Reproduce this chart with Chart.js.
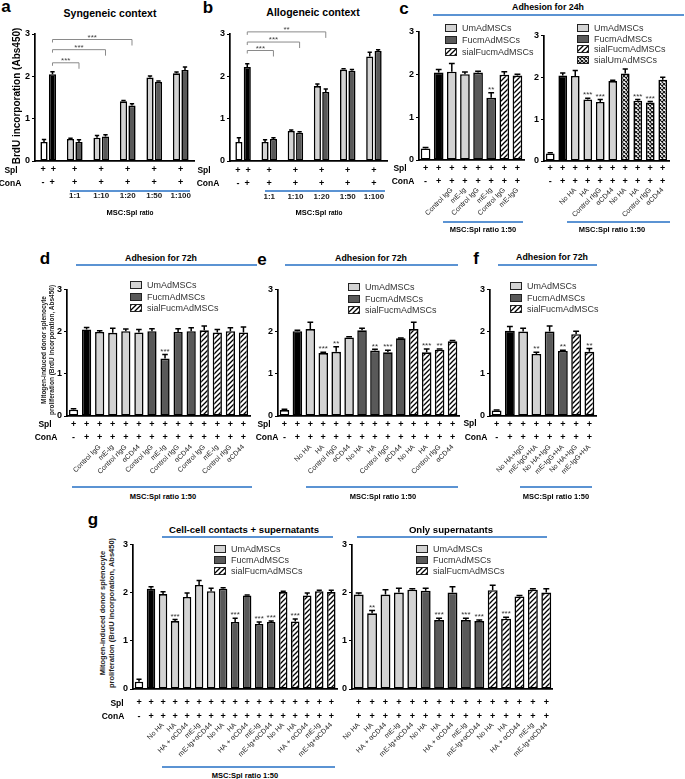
<!DOCTYPE html>
<html>
<head>
<meta charset="utf-8">
<script src="https://cdn.jsdelivr.net/npm/chart.js@4.4.0/dist/chart.umd.min.js"></script>
<style>
  body { margin: 0; background: #fff; }
  #fig { position: relative; width: 685px; height: 779px; overflow: hidden; font-family: "Liberation Sans", Arial, sans-serif; color: #000; }
  #fig canvas { position: absolute; }
  .t { position: absolute; white-space: nowrap; transform: translate(-50%, -50%); font-weight: bold; }
  .hl { position: absolute; height: 1.5px; background: #5b93d3; }
  .lg { position: absolute; font-size: 9px; line-height: 10px; height: 10px; color: #333; white-space: nowrap; }
  .lg .sw { display: inline-block; width: 10px; height: 6px; border: 1.2px solid #222; vertical-align: -1px; margin-right: 5px; }
</style>
</head>
<body>
<div id="fig"></div>
<script>
// ---- a: syngeneic context, MSC:Spl ratio titration ----
const ratioLabels = ["", "1:1", "1:10", "1:20", "1:50", "1:100"];
const abSpl = ["+  +", "+", "+", "+", "+", "+"];
const abConA = ["-  +", "+", "+", "+", "+", "+"];
const abFirstCells = ["Spl", "UmAdMSCs", "UmAdMSCs", "UmAdMSCs", "UmAdMSCs", "UmAdMSCs"];
const abSecondCells = ["Spl+ConA", "FucmAdMSCs", "FucmAdMSCs", "FucmAdMSCs", "FucmAdMSCs", "FucmAdMSCs"];
const aFirst = [0.45, 0.52, 0.55, 1.41, 1.97, 2.07];
const aFirstErr = [0.06, 0.02, 0.05, 0.02, 0.04, 0.03];
const aSecond = [2.05, 0.45, 0.58, 1.31, 1.87, 2.15];
const aSecondErr = [0.06, 0.05, 0.04, 0.04, 0.02, 0.07];
const aBrackets = [{ to: 1, level: 2.32, label: "***" }, { to: 2, level: 2.63, label: "***" }, { to: 3, level: 2.87, label: "***" }];

// ---- b: allogeneic context ----
const bFirst = [0.45, 0.45, 0.71, 1.77, 2.16, 2.47];
const bFirstErr = [0.10, 0.05, 0.02, 0.05, 0.02, 0.10];
const bSecond = [2.22, 0.52, 0.67, 1.63, 2.13, 2.60];
const bSecondErr = [0.08, 0.03, 0.02, 0.07, 0.03, 0.03];
const bBrackets = [{ to: 1, level: 2.61, label: "***" }, { to: 2, level: 2.81, label: "***" }, { to: 3, level: 3.05, label: "**" }];

// ---- c: adhesion for 24h ----
const cLCells = ["Spl", "Spl+ConA", "UmAdMSCs", "UmAdMSCs", "FucmAdMSCs", "FucmAdMSCs", "sialFucmAdMSCs", "sialFucmAdMSCs"];
const cLTreat = ["", "", "Control IgG", "mE-Ig", "Control IgG", "mE-Ig", "Control IgG", "mE-IgG"];
const cLValues = [0.27, 2.04, 2.06, 2.00, 2.04, 1.45, 1.99, 1.97];
const cLErr = [0.02, 0.07, 0.19, 0.05, 0.03, 0.12, 0.07, 0.03];
const cLSig = ["", "", "", "", "", "**", "", ""];
const cLLegend = ["UmAdMSCs", "FucmAdMSCs", "sialFucmAdMSCs"];

const cRCells = ["Spl", "Spl+ConA", "UmAdMSCs", "UmAdMSCs", "UmAdMSCs", "UmAdMSCs", "sialUmAdMSCs", "sialUmAdMSCs", "sialUmAdMSCs", "sialUmAdMSCs"];
const cRTreat = ["", "", "No HA", "HA", "Control rIgG", "αCD44", "No HA", "HA", "Control rIgG", "αCD44"];
const cRValues = [0.18, 2.04, 2.03, 1.47, 1.41, 1.91, 2.09, 1.44, 1.40, 1.94];
const cRErr = [0.02, 0.06, 0.13, 0.03, 0.06, 0.02, 0.11, 0.03, 0.02, 0.06];
const cRSig = ["", "", "", "***", "***", "", "", "***", "***", ""];
const cRLegend = ["UmAdMSCs", "FucmAdMSCs", "sialFucmAdMSCs", "sialUmAdMSCs"];

// ---- d, e, f: adhesion for 72h ----
const threeCells14 = ["Spl", "Spl+ConA", "UmAdMSCs", "UmAdMSCs", "UmAdMSCs", "UmAdMSCs", "FucmAdMSCs", "FucmAdMSCs", "FucmAdMSCs", "FucmAdMSCs", "sialFucmAdMSCs", "sialFucmAdMSCs", "sialFucmAdMSCs", "sialFucmAdMSCs"];
const legend3 = ["UmAdMSCs", "FucmAdMSCs", "sialFucmAdMSCs"];

const dTreat = ["", "", "Control IgG", "mE-Ig", "Control rIgG", "αCD44", "Control IgG", "mE-Ig", "Control rIgG", "αCD44", "Control IgG", "mE-Ig", "Control rIgG", "αCD44"];
const dValues = [0.15, 2.05, 1.99, 1.97, 2.01, 1.98, 2.01, 1.36, 1.99, 2.01, 2.03, 1.98, 2.01, 1.98];
const dErr = [0.02, 0.05, 0.03, 0.11, 0.05, 0.07, 0.06, 0.10, 0.08, 0.08, 0.10, 0.07, 0.08, 0.13];
const dSig = ["", "", "", "", "", "", "", "***", "", "", "", "", "", ""];

const eTreat = ["", "", "No HA", "HA", "Control rIgG", "αCD44", "No HA", "HA", "Control rIgG", "αCD44", "No HA", "HA", "Control rIgG", "αCD44"];
const eValues = [0.14, 2.01, 2.06, 1.49, 1.52, 1.86, 2.03, 1.55, 1.51, 1.84, 2.06, 1.51, 1.57, 1.77];
const eErr = [0.02, 0.02, 0.16, 0.02, 0.12, 0.02, 0.05, 0.03, 0.05, 0.01, 0.16, 0.08, 0.02, 0.02];
const eSig = ["", "", "", "***", "**", "", "", "**", "***", "", "", "***", "**", ""];

const fCells = ["Spl", "Spl+ConA", "UmAdMSCs", "UmAdMSCs", "FucmAdMSCs", "FucmAdMSCs", "sialFucmAdMSCs", "sialFucmAdMSCs"];
const fTreat = ["", "", "No HA+IgG", "mE-IgG+HA", "No HA+IgG", "mE-IgG+HA", "No HA+IgG", "mE-IgG+HA"];
const fValues = [0.13, 2.02, 2.00, 1.47, 2.00, 1.54, 1.94, 1.52];
const fErr = [0.01, 0.10, 0.08, 0.04, 0.13, 0.02, 0.07, 0.08];
const fSig = ["", "", "", "**", "", "**", "", "**"];

// ---- g: cell-cell contacts + supernatants / only supernatants ----
const gTreat5 = ["No HA", "HA", "HA + αCD44", "mE-Ig", "mE-Ig+αCD44"];
const gLCells = ["Spl", "Spl+ConA", "UmAdMSCs", "UmAdMSCs", "UmAdMSCs", "UmAdMSCs", "UmAdMSCs", "FucmAdMSCs", "FucmAdMSCs", "FucmAdMSCs", "FucmAdMSCs", "FucmAdMSCs", "sialFucmAdMSCs", "sialFucmAdMSCs", "sialFucmAdMSCs", "sialFucmAdMSCs", "sialFucmAdMSCs"];
const gLValues = [0.15, 2.08, 1.97, 1.41, 1.91, 2.16, 2.03, 2.08, 1.39, 1.94, 1.35, 1.39, 2.01, 1.40, 1.94, 2.03, 2.01];
const gLErr = [0.05, 0.04, 0.05, 0.03, 0.08, 0.09, 0.06, 0.02, 0.08, 0.01, 0.04, 0.02, 0.02, 0.05, 0.05, 0.02, 0.04];
const gLSig = ["", "", "", "***", "", "", "", "", "***", "", "***", "***", "", "***", "", "", ""];

const gRCells = gLCells.slice(2);
const gRValues = [1.96, 1.57, 1.96, 2.00, 2.06, 2.04, 1.43, 2.00, 1.43, 1.41, 2.05, 1.46, 1.92, 2.06, 2.00];
const gRErr = [0.03, 0.06, 0.10, 0.09, 0.02, 0.05, 0.04, 0.12, 0.04, 0.02, 0.10, 0.03, 0.02, 0.02, 0.08];
const gRSig = ["", "**", "", "", "", "", "***", "", "***", "***", "", "***", "", "", ""];

// ------------------------------------------------------------------
Chart.defaults.font.family = '"Liberation Sans", Arial, sans-serif';
const fig = document.getElementById("fig");

function stripes() {
  const c = document.createElement("canvas");
  c.width = c.height = 5;
  const g = c.getContext("2d");
  g.fillStyle = "#fff"; g.fillRect(0, 0, 5, 5);
  g.strokeStyle = "#000"; g.lineWidth = 1.3;
  g.beginPath();
  g.moveTo(-1, 6); g.lineTo(6, -1);
  g.moveTo(-1, 1); g.lineTo(1, -1);
  g.moveTo(4, 6); g.lineTo(6, 4);
  g.stroke();
  return c;
}
function checks() {
  const c = document.createElement("canvas");
  c.width = c.height = 4;
  const g = c.getContext("2d");
  g.fillStyle = "#fff"; g.fillRect(0, 0, 4, 4);
  g.strokeStyle = "#111"; g.lineWidth = 1.1;
  g.beginPath();
  g.moveTo(-1, 5); g.lineTo(5, -1);
  g.moveTo(-1, -1); g.lineTo(5, 5);
  g.stroke();
  return c;
}
const stripeTile = stripes(), checkTile = checks();
const ctx0 = document.createElement("canvas").getContext("2d");
const fills = {
  "Spl": "#ffffff",
  "Spl+ConA": "#000000",
  "UmAdMSCs": "#d3d3d3",
  "FucmAdMSCs": "#595959",
  "sialFucmAdMSCs": ctx0.createPattern(stripeTile, "repeat"),
  "sialUmAdMSCs": ctx0.createPattern(checkTile, "repeat")
};

// error bars + significance stars
Chart.register({
  id: "errorBars",
  afterDatasetsDraw(chart) {
    const ctx = chart.ctx, y = chart.scales.y;
    chart.data.datasets.forEach((ds, i) => {
      chart.getDatasetMeta(i).data.forEach((bar, j) => {
        const top = y.getPixelForValue(ds.data[j] + ds.errors[j]);
        const cap = bar.width * 0.3;
        ctx.save();
        ctx.strokeStyle = "#000"; ctx.lineWidth = 1.5;
        ctx.beginPath();
        ctx.moveTo(bar.x, bar.y); ctx.lineTo(bar.x, top);
        ctx.moveTo(bar.x - cap, top); ctx.lineTo(bar.x + cap, top);
        ctx.stroke();
        const s = ds.stars[j];
        if (s) {
          ctx.fillStyle = "#333"; ctx.font = '8px "Liberation Sans"';
          ctx.textAlign = "center"; ctx.textBaseline = "bottom";
          ctx.fillText(s, bar.x, top + 1);
        }
        ctx.restore();
      });
    });
  }
});

// comparison brackets (a, b)
Chart.register({
  id: "brackets",
  afterDatasetsDraw(chart, args, opts) {
    const list = opts.list || [];
    const ctx = chart.ctx, y = chart.scales.y, bars = chart.getDatasetMeta(1).data;
    list.forEach(b => {
      const x1 = bars[0].x, x2 = bars[b.to].x, yy = y.getPixelForValue(b.level);
      ctx.save();
      ctx.strokeStyle = "#8a8a8a"; ctx.lineWidth = 1;
      ctx.beginPath();
      ctx.moveTo(x1, yy + 3); ctx.lineTo(x1, yy); ctx.lineTo(x2, yy); ctx.lineTo(x2, yy + 6);
      ctx.stroke();
      ctx.fillStyle = "#444"; ctx.font = '8px "Liberation Sans"';
      ctx.textAlign = "center"; ctx.textBaseline = "bottom";
      ctx.fillText(b.label, (x1 + x2) / 2, yy + 2);
      ctx.restore();
    });
  }
});

function ds(values, errors, cells, stars) {
  return {
    data: values, errors: errors, stars: stars || [],
    backgroundColor: cells.map(c => fills[c]),
    borderColor: "#000", borderWidth: 1.6, borderSkipped: false
  };
}

function panel(o) {
  const cv = document.createElement("canvas");
  const W = Math.round(o.x1 - o.x0 + o.yW + o.padR);
  const H = Math.round(o.y1 - o.y0 + o.padT + o.h1 + o.h2);
  cv.width = W; cv.height = H;
  cv.style.left = (o.x0 - o.yW) + "px";
  cv.style.top = (o.y0 - o.padT) + "px";
  fig.appendChild(cv);
  new Chart(cv, {
    type: "bar",
    data: { labels: o.labels, datasets: o.datasets },
    options: {
      responsive: false, animation: false, devicePixelRatio: 1,
      layout: { padding: { top: o.padT, right: o.padR, left: 0, bottom: 0 }, autoPadding: false },
      datasets: { bar: { categoryPercentage: o.cat, barPercentage: o.bar } },
      plugins: { legend: { display: false }, tooltip: { enabled: false }, brackets: { list: o.brackets || [] } },
      scales: {
        x: {
          type: "category", position: "bottom", offset: true, weight: 0,
          grid: { display: false, drawTicks: false },
          border: { display: true, color: "#000", width: 1.7 },
          ticks: { color: "#000", font: { size: 9, weight: "bold", lineHeight: o.lh }, padding: o.padX, maxRotation: 0, minRotation: 0, autoSkip: false },
          afterFit: s => { s.height = o.h1; }
        },
        x2: {
          type: "category", position: "bottom", labels: o.labels2, offset: true, weight: 1,
          grid: { display: false, drawTicks: false },
          border: { display: false },
          ticks: { color: "#1a1a1a", font: o.f2, padding: o.pad2, maxRotation: o.rot, minRotation: o.rot, autoSkip: false },
          afterFit: s => { s.height = o.h2; }
        },
        y: {
          min: 0, max: 3,
          ticks: { stepSize: 1, color: "#000", font: { size: 9, weight: "bold" }, padding: 2 },
          grid: { display: true, drawOnChartArea: false, drawTicks: true, tickLength: 3, color: "#000", lineWidth: 1 },
          border: { display: true, color: "#000", width: 1.7 },
          afterFit: s => { s.width = o.yW; }
        }
      }
    }
  });
}

function rows(spl, cona) { return spl.map((s, i) => [s, cona[i]]); }
function plusRows(n) { return rows(Array(n).fill("+"), ["-"].concat(Array(n - 1).fill("+"))); }

const rotFont = { size: 7 };

// a, b
panel({ x0: 34.5, x1: 193, y0: 34.3, y1: 161.7, yW: 16, padT: 8, padR: 4, h1: 30, h2: 14, padX: 1.8, lh: 1.45,
  pad2: 0, rot: 0, f2: { size: 8, weight: "bold" }, cat: 0.64, bar: 0.85,
  labels: rows(abSpl, abConA), labels2: ratioLabels,
  datasets: [ds(aFirst, aFirstErr, abFirstCells), ds(aSecond, aSecondErr, abSecondCells)], brackets: aBrackets });
panel({ x0: 229.5, x1: 386, y0: 34.3, y1: 161, yW: 16, padT: 10, padR: 4, h1: 31, h2: 14, padX: 2.5, lh: 1.45,
  pad2: 0, rot: 0, f2: { size: 8, weight: "bold" }, cat: 0.64, bar: 0.85,
  labels: rows(abSpl, abConA), labels2: ratioLabels,
  datasets: [ds(bFirst, bFirstErr, abFirstCells), ds(bSecond, bSecondErr, abSecondCells)], brackets: bBrackets });

// c
panel({ x0: 419, x1: 524, y0: 30, y1: 160, yW: 16, padT: 6, padR: 3, h1: 25, h2: 36, padX: 1.5, lh: 1.45,
  pad2: 1, rot: 45, f2: rotFont, cat: 0.9, bar: 0.82,
  labels: plusRows(cLValues.length), labels2: cLTreat, datasets: [ds(cLValues, cLErr, cLCells, cLSig)] });
panel({ x0: 544, x1: 668.5, y0: 34.3, y1: 161, yW: 16, padT: 6, padR: 3, h1: 24, h2: 36, padX: 0.5, lh: 1.45,
  pad2: 1, rot: 45, f2: rotFont, cat: 0.85, bar: 0.82,
  labels: plusRows(cRValues.length), labels2: cRTreat, datasets: [ds(cRValues, cRErr, cRCells, cRSig)] });

// d, e, f
panel({ x0: 67, x1: 249.5, y0: 288.3, y1: 416, yW: 16, padT: 6, padR: 3, h1: 26, h2: 42, padX: 1.5, lh: 1.45,
  pad2: 1, rot: 45, f2: rotFont, cat: 0.85, bar: 0.83,
  labels: plusRows(dValues.length), labels2: dTreat, datasets: [ds(dValues, dErr, threeCells14, dSig)] });
panel({ x0: 277.5, x1: 458.5, y0: 288.3, y1: 416, yW: 16, padT: 6, padR: 3, h1: 26, h2: 42, padX: 1.5, lh: 1.45,
  pad2: 1, rot: 45, f2: rotFont, cat: 0.87, bar: 0.85,
  labels: plusRows(eValues.length), labels2: eTreat, datasets: [ds(eValues, eErr, threeCells14, eSig)] });
panel({ x0: 490, x1: 596, y0: 288.3, y1: 416, yW: 16, padT: 6, padR: 3, h1: 26, h2: 42, padX: 1.5, lh: 1.45,
  pad2: 1, rot: 45, f2: rotFont, cat: 0.87, bar: 0.85,
  labels: plusRows(fValues.length), labels2: fTreat, datasets: [ds(fValues, fErr, fCells, fSig)] });

// g
panel({ x0: 133, x1: 337.5, y0: 543, y1: 689, yW: 16, padT: 6, padR: 3, h1: 31, h2: 46, padX: 7, lh: 1.55,
  pad2: 1, rot: 45, f2: rotFont, cat: 0.84, bar: 0.84,
  labels: plusRows(gLValues.length), labels2: ["", ""].concat(gTreat5, gTreat5, gTreat5),
  datasets: [ds(gLValues, gLErr, gLCells, gLSig)] });
panel({ x0: 351.5, x1: 552, y0: 543, y1: 689, yW: 16, padT: 6, padR: 3, h1: 31, h2: 46, padX: 7, lh: 1.55,
  pad2: 1, rot: 45, f2: rotFont, cat: 0.87, bar: 0.85,
  labels: rows(Array(15).fill("+"), Array(15).fill("+")), labels2: gTreat5.concat(gTreat5, gTreat5),
  datasets: [ds(gRValues, gRErr, gRCells, gRSig)] });

// ---- text, rules and legends ----
function put(html, x, y, css) {
  const d = document.createElement("div");
  d.className = "t"; d.innerHTML = html;
  d.style.left = x + "px"; d.style.top = y + "px";
  if (css) d.style.cssText += css;
  fig.appendChild(d);
}
function rule(x1, x2, y) {
  const d = document.createElement("div");
  d.className = "hl";
  d.style.left = x1 + "px"; d.style.width = (x2 - x1) + "px"; d.style.top = y + "px";
  fig.appendChild(d);
}
function legend(x, ys, names) {
  names.forEach((n, i) => {
    const d = document.createElement("div");
    d.className = "lg";
    d.style.left = x + "px"; d.style.top = (ys[i] - 5) + "px";
    const sw = document.createElement("span");
    sw.className = "sw";
    if (n === "sialFucmAdMSCs") sw.style.backgroundImage = "url(" + stripeTile.toDataURL() + ")";
    else if (n === "sialUmAdMSCs") sw.style.backgroundImage = "url(" + checkTile.toDataURL() + ")";
    else sw.style.background = fills[n];
    d.appendChild(sw);
    d.appendChild(document.createTextNode(n));
    fig.appendChild(d);
  });
}

const letter = "font-size:17px;";
put("a", 6, 7, letter); put("b", 208, 8, letter); put("c", 404, 9, letter);
put("d", 45, 259, letter); put("e", 262, 260, letter); put("f", 476, 259, letter); put("g", 93, 520, letter);

put("Syngeneic context", 110, 13, "font-size:10.5px;");
put("Allogeneic context", 313, 12, "font-size:10.5px;");
put("Adhesion for 24h", 548, 7, "font-size:8.8px;");
put("Adhesion for 72h", 161, 258, "font-size:8.8px;");
put("Adhesion for 72h", 371, 258, "font-size:8.8px;");
put("Adhesion for 72h", 552, 257, "font-size:8.8px;");
put("Cell-cell contacts + supernatants", 244, 529, "font-size:9.6px;");
put("Only supernatants", 451, 529, "font-size:9.6px;");
rule(433, 684, 14); rule(76, 257, 264); rule(285, 458, 264); rule(498, 597, 264);
rule(162, 333, 536); rule(357, 547, 536);

put("BrdU incorporation (Abs450)", 16, 96, "font-size:10px;transform:translate(-50%,-50%) rotate(-90deg);");
put("Mitogen-induced donor splenocyte<br>proliferation (BrdU incorporation, Abs450)", 47, 350,
  "font-size:6.5px;line-height:7.5px;text-align:center;color:#222;transform:translate(-50%,-50%) rotate(-90deg);");
put("Mitogen-induced donor splenocyte<br>proliferation (BrdU incorporation, Abs450)", 107, 613,
  "font-size:7.5px;line-height:8.5px;text-align:center;color:#222;transform:translate(-50%,-50%) rotate(-90deg);");

const rowCss = "font-size:8.5px;";
[[11, 10, 170, 183], [204, 208, 170, 183], [400, 403, 168, 181], [45, 46, 424, 437], [264, 267, 424, 437], [470, 476, 423, 437], [117, 113, 703, 716]]
  .forEach(r => { put("Spl", r[0], r[2], rowCss); put("ConA", r[1], r[3], rowCss); });

rule(70, 190, 190); rule(265, 385, 190);
rule(443, 523, 221); rule(567, 670, 221);
rule(72, 252, 486); rule(306, 458, 486); rule(520, 592, 486);
rule(162, 335, 766);
const cap = "font-size:7.5px;";
put('MSC:Spl <span style="font-size:6.5px">ratio</span>', 130, 212, cap);
put('MSC:Spl <span style="font-size:6.5px">ratio</span>', 319, 212, cap);
put("MSC:Spl ratio 1:50", 483, 229, cap); put("MSC:Spl ratio 1:50", 612, 229, cap);
put("MSC:Spl ratio 1:50", 163, 496, cap); put("MSC:Spl ratio 1:50", 383, 496, cap); put("MSC:Spl ratio 1:50", 556, 496, cap);
put("MSC:Spl ratio 1:50", 245, 775, cap);

legend(445, [28, 40, 51.5], cLLegend);
legend(577, [28, 38.5, 48.5, 59.5], cRLegend);
legend(130, [285, 296.7, 308.3], legend3);
legend(348, [287, 298.5, 310], legend3);
legend(510, [286, 297.7, 309.3], legend3);
legend(214, [549, 560, 571], legend3);
legend(416, [549, 560, 571], legend3);
</script>
</body>
</html>
